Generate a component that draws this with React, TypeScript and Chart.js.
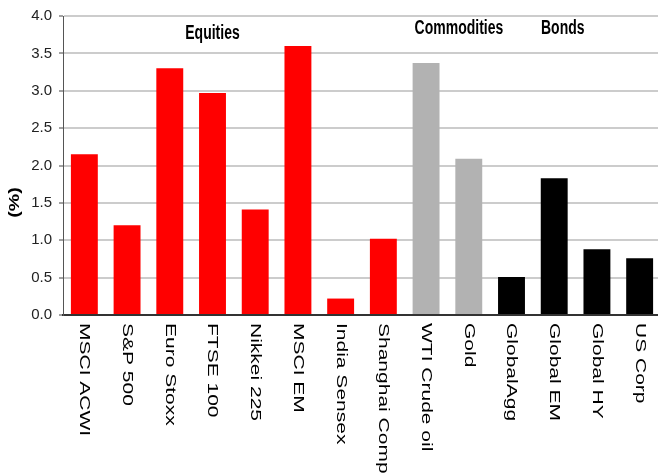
import React, { useEffect, useRef } from "react";
import { Chart, registerables } from "chart.js";

Chart.register(...registerables);

const categories = [
  "MSCI ACWI", "S&P 500", "Euro Stoxx", "FTSE 100", "Nikkei 225", "MSCI EM",
  "India Sensex", "Shanghai Comp", "WTI Crude oil", "Gold", "GlobalAgg",
  "Global EM", "Global HY", "US Corp",
];
const values = [2.15, 1.2, 3.3, 2.97, 1.41, 3.6, 0.22, 1.02, 3.37, 2.09, 0.51, 1.83, 0.88, 0.76];
const groups = [
  "Equities", "Equities", "Equities", "Equities", "Equities", "Equities", "Equities", "Equities",
  "Commodities", "Commodities", "Bonds", "Bonds", "Bonds", "Bonds",
];
const groupLabels = ["Equities", "Commodities", "Bonds"];
const groupLabelX = [3.0, 8.77, 11.2];
const groupLabelY = [3.77, 3.83, 3.83];
const yTicks = [0, 0.5, 1, 1.5, 2, 2.5, 3, 3.5, 4];
const yTitle = "(%)";

const groupColor: Record<string, string> = {
  Equities: "#ff0000",
  Commodities: "#b2b2b2",
  Bonds: "#000000",
};

const FONT = '"Liberation Sans", Arial, sans-serif';

const customText = {
  id: "customText",
  afterDraw(chart: any) {
    const ctx = chart.ctx;
    const x = chart.scales.x;
    const y = chart.scales.y;
    ctx.save();
    ctx.fillStyle = "#000";
    // rotated category labels (clockwise)
    ctx.font = `15px ${FONT}`;
    categories.forEach((c, i) => {
      const px = x.getPixelForValue(i);
      ctx.save();
      ctx.translate(px, y.bottom + 8);
      ctx.rotate(Math.PI / 2);
      ctx.scale(1.4, 1);
      ctx.textAlign = "left";
      ctx.textBaseline = "middle";
      ctx.fillText(c, 0, 0);
      ctx.restore();
    });
    // group annotations
    ctx.font = `bold 14px ${FONT}`;
    groupLabels.forEach((g, i) => {
      ctx.save();
      ctx.translate(x.getPixelForValue(groupLabelX[i]), y.getPixelForValue(groupLabelY[i]));
      ctx.scale(1, 1.4);
      ctx.textAlign = "center";
      ctx.textBaseline = "middle";
      ctx.fillText(g, 0, 0);
      ctx.restore();
    });
    // y title
    ctx.font = `bold 14px ${FONT}`;
    ctx.save();
    ctx.translate(15, (y.top + y.bottom) / 2 + 37);
    ctx.rotate(-Math.PI / 2);
    ctx.scale(1.4, 1);
    ctx.textAlign = "center";
    ctx.textBaseline = "middle";
    ctx.fillText(yTitle, 0, 0);
    ctx.restore();
    ctx.restore();
  },
};

export default function App() {
  const ref = useRef<HTMLCanvasElement>(null);
  useEffect(() => {
    if (!ref.current) return;
    const chart = new Chart(ref.current, {
      type: "bar",
      data: {
        labels: categories,
        datasets: [
          {
            data: values,
            backgroundColor: groups.map((g) => groupColor[g]),
            barPercentage: 0.63,
            categoryPercentage: 1,
          },
        ],
      },
      options: {
        responsive: false,
        animation: false,
        layout: { padding: { top: 16, left: 0, right: 0, bottom: 0 } },
        plugins: { legend: { display: false }, tooltip: { enabled: false } },
        scales: {
          x: {
            grid: { display: false },
            border: { display: true, color: "#333333", width: 2 },
            ticks: { display: false },
            afterFit: (s: any) => {
              s.height = 159;
            },
          },
          y: {
            min: 0,
            max: 4,
            afterBuildTicks: (s: any) => {
              s.ticks = yTicks.map((v) => ({ value: v }));
            },
            grid: {
              color: "#cccccc",
              lineWidth: 2,
              tickLength: 4,
              tickColor: "#444444",
              tickWidth: 1,
            },
            border: { display: true, color: "#555555", width: 1 },
            ticks: {
              padding: 7,
              color: "#222222",
              font: { family: FONT, size: 15 },
              callback: (v: any) => Number(v).toFixed(1),
            },
            afterFit: (s: any) => {
              s.width = 63;
            },
          },
        },
      },
      plugins: [customText],
    });
    return () => chart.destroy();
  }, []);
  return (
    <div
      style={{
        position: "fixed",
        left: 0,
        top: 0,
        width: 658,
        height: 474,
        overflow: "hidden",
        background: "#fff",
      }}
    >
      <canvas ref={ref} width={661} height={474} />
    </div>
  );
}
